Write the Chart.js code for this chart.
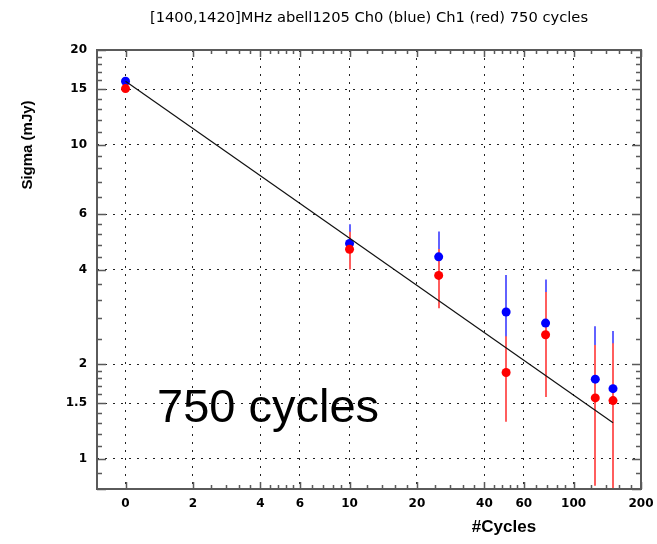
<!DOCTYPE html>
<html>
<head>
<meta charset="utf-8">
<script src="https://cdn.jsdelivr.net/npm/chart.js@4.4.1/dist/chart.umd.min.js"></script>
<style>
  html, body { margin: 0; padding: 0; background: #fff; }
  #c { display: block; }
</style>
</head>
<body>
<canvas id="c" width="657" height="544"></canvas>
<script>
// axes
const xTicks = [1, 2, 4, 6, 10, 20, 40, 60, 100, 200];
const xTickLabels = ['0', '2', '4', '6', '10', '20', '40', '60', '100', '200'];
const xMinorDivs = [1, 5, 5, 5, 5, 5, 5, 5, 5];
const yTicks = [0.8, 1, 1.5, 2, 4, 6, 10, 15, 20];
const yTickLabels = ['', '1', '1.5', '2', '4', '6', '10', '15', '20'];
const yMinorDivs = [2, 5, 5, 5, 5, 5, 5, 5];

// measurements
const cycles = [1, 10, 25, 50, 75, 125, 150];
const sigmaCh0 = [15.9, 4.84, 4.39, 2.93, 2.70, 1.79, 1.67];
const errCh0 = [0.45, 0.73, 0.90, 0.91, 1.02, 0.85, 0.88];
const sigmaCh1 = [15.07, 4.64, 3.83, 1.88, 2.48, 1.56, 1.53];
const errCh1 = [0.35, 0.64, 0.82, 0.57, 0.91, 0.74, 0.80];

// expected 1/sqrt(N) fall-off
const fitX = [1, 150];
const fitY = [15.9, 1.3];

const titleText = '[1400,1420]MHz abell1205 Ch0 (blue) Ch1 (red) 750 cycles';
const FRAME = '#5a5a5a';

const toPts = (xs, ys) => xs.map((x, i) => ({ x: x, y: ys[i] }));

const errorBars = {
  id: 'errorBars',
  beforeDatasetsDraw(chart) {
    const { ctx, chartArea: a, scales: { x, y } } = chart;
    ctx.save();
    ctx.beginPath();
    ctx.rect(a.left, a.top, a.right - a.left, a.bottom - a.top);
    ctx.clip();
    ctx.lineWidth = 2;
    [[sigmaCh0, errCh0, '#6262ff'], [sigmaCh1, errCh1, '#ff5e5e']].forEach(([vals, errs, col]) => {
      ctx.strokeStyle = col;
      vals.forEach((v, i) => {
        const px = Math.round(x.getPixelForValue(cycles[i]));
        const lo = v - errs[i] > 0 ? y.getPixelForValue(v - errs[i]) : a.bottom;
        ctx.beginPath();
        ctx.moveTo(px, y.getPixelForValue(v + errs[i]));
        ctx.lineTo(px, lo);
        ctx.stroke();
      });
    });
    ctx.restore();
  }
};

// frame, inward ticks on all four sides, axis titles and the big note
const frame = {
  id: 'frame',
  afterDraw(chart) {
    const { ctx, chartArea: a, scales: { x, y } } = chart;
    ctx.save();
    ctx.strokeStyle = FRAME;
    ctx.lineWidth = 1.5;

    const tickX = (px, len) => {
      ctx.beginPath();
      ctx.moveTo(px, a.bottom); ctx.lineTo(px, a.bottom - len);
      ctx.moveTo(px, a.top); ctx.lineTo(px, a.top + len);
      ctx.stroke();
    };
    const tickY = (py, len) => {
      ctx.beginPath();
      ctx.moveTo(a.left, py); ctx.lineTo(a.left + len, py);
      ctx.moveTo(a.right, py); ctx.lineTo(a.right - len, py);
      ctx.stroke();
    };

    xTicks.forEach((v, i) => {
      tickX(Math.round(x.getPixelForValue(v)) + 0.5, 7);
      const n = xMinorDivs[i];
      if (n === undefined) return;
      for (let k = 1; k < n; k++) {
        tickX(Math.round(x.getPixelForValue(v + (xTicks[i + 1] - v) * k / n)) + 0.5, 4);
      }
    });
    yTicks.forEach((v, i) => {
      tickY(Math.round(y.getPixelForValue(v)) + 0.5, 9);
      const n = yMinorDivs[i];
      if (n === undefined) return;
      for (let k = 1; k < n; k++) {
        tickY(Math.round(y.getPixelForValue(v + (yTicks[i + 1] - v) * k / n)) + 0.5, 5);
      }
    });

    ctx.lineWidth = 2;
    ctx.strokeRect(a.left, a.top, a.right - a.left, a.bottom - a.top);

    ctx.fillStyle = '#000';
    ctx.textAlign = 'center';
    ctx.textBaseline = 'middle';
    ctx.font = '14.7px "DejaVu Sans"';
    ctx.fillText(titleText, (a.left + a.right) / 2, 18);

    ctx.font = 'bold 17px "Liberation Sans"';
    ctx.fillText('#Cycles', 504, 527);

    ctx.save();
    ctx.translate(28, 145);
    ctx.rotate(-Math.PI / 2);
    ctx.font = 'bold 15px "Liberation Sans"';
    ctx.fillText('Sigma (mJy)', 0, 0);
    ctx.restore();

    ctx.textAlign = 'left';
    ctx.textBaseline = 'alphabetic';
    ctx.font = '47px "Liberation Sans"';
    ctx.fillText('750 cycles', 157, 422);
    ctx.restore();
  }
};

const tickFont = { family: 'DejaVu Sans', weight: 'bold', size: 12 };

new Chart(document.getElementById('c'), {
  type: 'scatter',
  data: {
    datasets: [
      {
        type: 'line',
        data: toPts(fitX, fitY),
        borderColor: '#111',
        borderWidth: 1.2,
        pointRadius: 0,
        order: 0
      },
      {
        data: toPts(cycles, sigmaCh1),
        backgroundColor: '#ff0000',
        borderWidth: 0,
        pointRadius: 4.5,
        order: 1
      },
      {
        data: toPts(cycles, sigmaCh0),
        backgroundColor: '#0000ff',
        borderWidth: 0,
        pointRadius: 4.5,
        order: 2
      }
    ]
  },
  options: {
    responsive: false,
    animation: false,
    devicePixelRatio: 1,
    layout: { autoPadding: false, padding: { top: 50, right: 16, left: 0, bottom: 0 } },
    plugins: { legend: { display: false }, tooltip: { enabled: false } },
    scales: {
      x: {
        type: 'logarithmic',
        bounds: 'data',
        min: 0.746,
        max: 200,
        afterBuildTicks: s => { s.ticks = xTicks.map(v => ({ value: v })); },
        afterFit: s => { s.height = 55; s.paddingLeft = 0; s.paddingRight = 0; },
        ticks: {
          callback: (v, i) => xTickLabels[i],
          font: tickFont, color: '#000', padding: 8,
          maxRotation: 0, autoSkip: false
        },
        grid: { color: '#222', lineWidth: 1, drawTicks: false },
        border: { display: false, dash: [2, 6] }
      },
      y: {
        type: 'logarithmic',
        bounds: 'data',
        min: 0.8,
        max: 20,
        afterBuildTicks: s => { s.ticks = yTicks.map(v => ({ value: v })); },
        afterFit: s => { s.width = 97; s.paddingTop = 0; s.paddingBottom = 0; },
        ticks: {
          callback: (v, i) => yTickLabels[i],
          font: tickFont, color: '#000', padding: 10, autoSkip: false
        },
        grid: { color: '#222', lineWidth: 1, drawTicks: false },
        border: { display: false, dash: [2, 6] }
      }
    }
  },
  plugins: [errorBars, frame]
});
</script>
</body>
</html>
